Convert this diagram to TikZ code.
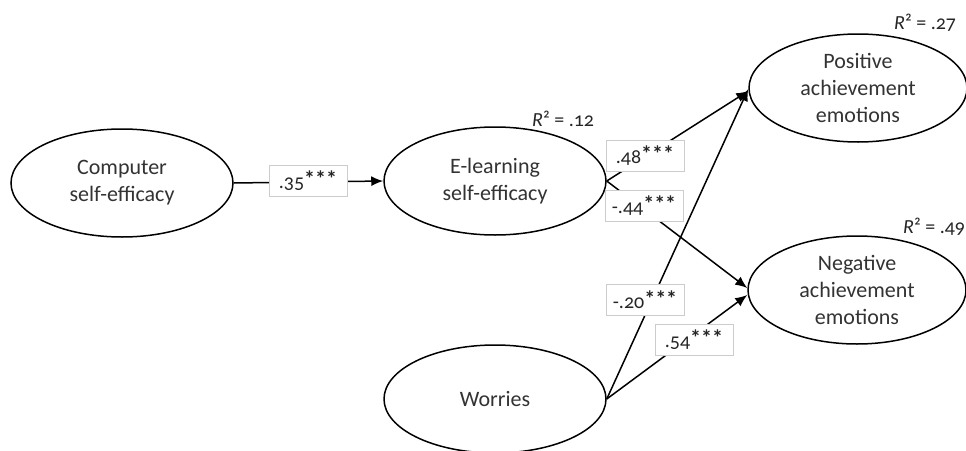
\documentclass[tikz,border=0pt]{standalone}
\usepackage{fontspec}
\setmainfont{Carlito}[Numbers=OldStyle]
\usetikzlibrary{arrows.meta,shapes.geometric}
\newcommand\mystars{\raisebox{2pt}{\bfseries\fontsize{22}{22}\selectfont***}}
\begin{document}
\begin{tikzpicture}[x=1pt,y=-1pt,
  latent/.style={ellipse,draw=black,line width=1.5pt,fill=white,inner sep=0pt,
    minimum width=222pt,minimum height=108pt,align=center,text=black!80,
    font=\fontsize{22}{27}\selectfont},
  path/.style={line width=1.5pt,-{Latex[length=12pt,width=10pt]}},
  coef/.style={draw=black!20,line width=0.5pt,fill=white,minimum width=78pt,
    minimum height=31pt,inner sep=1pt,text=black!85,font=\fontsize{20}{22}\selectfont},
  rsq/.style={text=black!85,font=\fontsize{20}{22}\selectfont,inner sep=0pt}]
\useasboundingbox (0,0) rectangle (966,450);
\node[latent] (cse) at (122,183) {Computer\\self-efficacy};
\node[latent] (el) at (495,181) {E-learning\\self-efficacy};
\node[latent,minimum width=218pt] (pos) at (858,88) {Positive\\achievement\\emotions};
\node[latent,minimum width=218pt] (neg) at (857,290) {Negative\\achievement\\emotions};
\node[latent] (wor) at (495,399) {Worries};
\draw[path] (cse.east) -- (el.west);
\draw[path] (el.east) -- ([yshift=-3pt]pos.west);
\draw[path] (el.east) -- ([yshift=2pt]neg.west);
\draw[path] (wor.east) -- ([yshift=-1pt]pos.west);
\draw[path] (wor.east) -- ([yshift=-5pt]neg.west);
\node[coef] (c1) at (308,181) {.35\mystars};
\node[coef] (c2) at (645,156) {.48\mystars};
\node[coef] (c3) at (644,206) {-.44\mystars};
\node[coef] (c4) at (645,300) {-.20\mystars};
\node[coef] (c5) at (694,340) {.54\mystars};
\node[rsq,anchor=west] (r1) at (532,119) {\textit{R}² = .12};
\node[rsq,anchor=west] (r2) at (894,23) {\textit{R}² = .27};
\node[rsq,anchor=west] (r3) at (903,227) {\textit{R}² = .49};
\end{tikzpicture}
\end{document}
